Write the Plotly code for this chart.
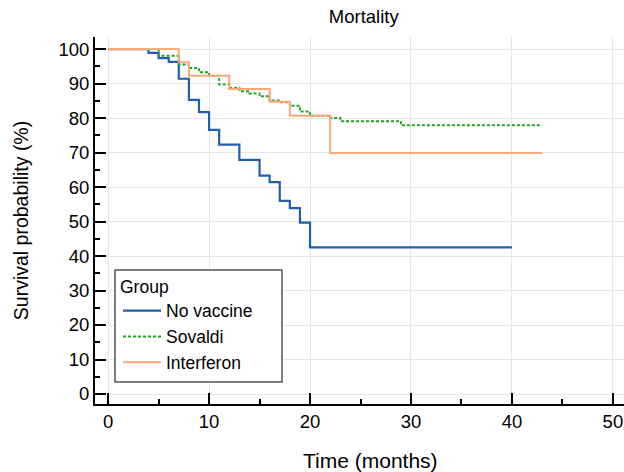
import plotly.graph_objects as go

# Kaplan-Meier step data (time in months, survival %)
novac_t = [0, 4, 5, 6, 7, 8, 9, 10, 11, 13, 15, 16, 17, 18, 19, 20, 40]
novac_s = [100, 98.9, 97.4, 96.3, 91.4, 85.3, 81.7, 76.6, 72.3, 67.9, 63.3, 61.4, 56.0, 53.9, 49.7, 42.5, 42.5]

sov_t = [0, 5, 7, 8, 9, 10, 11, 12, 13, 14, 15, 16, 17, 18, 19, 20, 22, 23, 29, 43]
sov_s = [100, 98.1, 95.5, 94.5, 93.3, 92.3, 89.7, 88.7, 87.8, 87.1, 86.3, 85.1, 84.6, 83.6, 81.9, 80.7, 80.0, 79.1, 77.9, 77.9]

int_t = [0, 7, 8, 12, 16, 18, 22, 43]
int_s = [100, 96.2, 92.3, 88.4, 84.7, 80.7, 69.9, 69.9]

x_ticks = [0, 10, 20, 30, 40, 50]
y_ticks = [0, 10, 20, 30, 40, 50, 60, 70, 80, 90, 100]

fig = go.Figure()
fig.add_trace(go.Scatter(x=novac_t, y=novac_s, mode="lines", name="No vaccine",
                         line=dict(color="#1f5fae", width=2.2, shape="hv")))
fig.add_trace(go.Scatter(x=sov_t, y=sov_s, mode="lines", name="Sovaldi",
                         line=dict(color="#1fa51f", width=2, shape="hv", dash="3px,2px")))
fig.add_trace(go.Scatter(x=int_t, y=int_s, mode="lines", name="Interferon",
                         line=dict(color="#ffa877", width=2, shape="hv")))

axis_common = dict(showline=True, linecolor="black", linewidth=2,
                   ticks="inside", ticklen=11, tickwidth=1.5, tickcolor="black",
                   showgrid=True, gridcolor="#e6e6e6", gridwidth=1,
                   zeroline=False, tickfont=dict(size=18.5, color="black"),
                   mirror=False, automargin=False)

fig.update_xaxes(range=[-1.3, 51.1], tickvals=x_ticks,
                 minor=dict(ticks="inside", ticklen=5, dtick=5, tick0=0, tickcolor="black", showgrid=False),
                 **axis_common)
fig.update_yaxes(range=[-2.9, 103.5], tickvals=y_ticks,
                 minor=dict(ticks="inside", ticklen=5, dtick=5, tick0=0, tickcolor="black", showgrid=False),
                 title=dict(text="Survival probability (%)", font=dict(size=19.5, color="black"), standoff=25),
                 **axis_common)

# legend frame
fig.add_shape(type="rect", xref="paper", yref="paper",
              x0=0.0378, x1=0.3535, y0=0.060, y1=0.365,
              fillcolor="white", line=dict(color="#555555", width=1.5), layer="above")

fig.add_annotation(text="Time (months)", xref="paper", yref="paper",
                   x=0.52, y=-0.1526, xanchor="center", yanchor="middle",
                   showarrow=False, font=dict(size=21, color="black"))

fig.update_layout(
    width=624, height=472,
    margin=dict(l=95, r=0, t=37, b=68),
    plot_bgcolor="white", paper_bgcolor="white",
    font=dict(family="Liberation Sans, Arial, sans-serif", color="black"),
    title=dict(text="Mortality", x=0.583, xanchor="center", y=0.979, yanchor="top",
               font=dict(size=18.5, color="black")),
    legend=dict(x=0.0435, y=0.365, xanchor="left", yanchor="top",
                bgcolor="rgba(0,0,0,0)", borderwidth=0,
                title=dict(text="Group", font=dict(size=17.5)),
                font=dict(size=17.5), itemwidth=38, tracegroupgap=0),
    showlegend=True,
)

fig.write_html("out.html", config={"displayModeBar": False},
               post_script="document.body.style.margin='0';document.body.style.padding='0';")
